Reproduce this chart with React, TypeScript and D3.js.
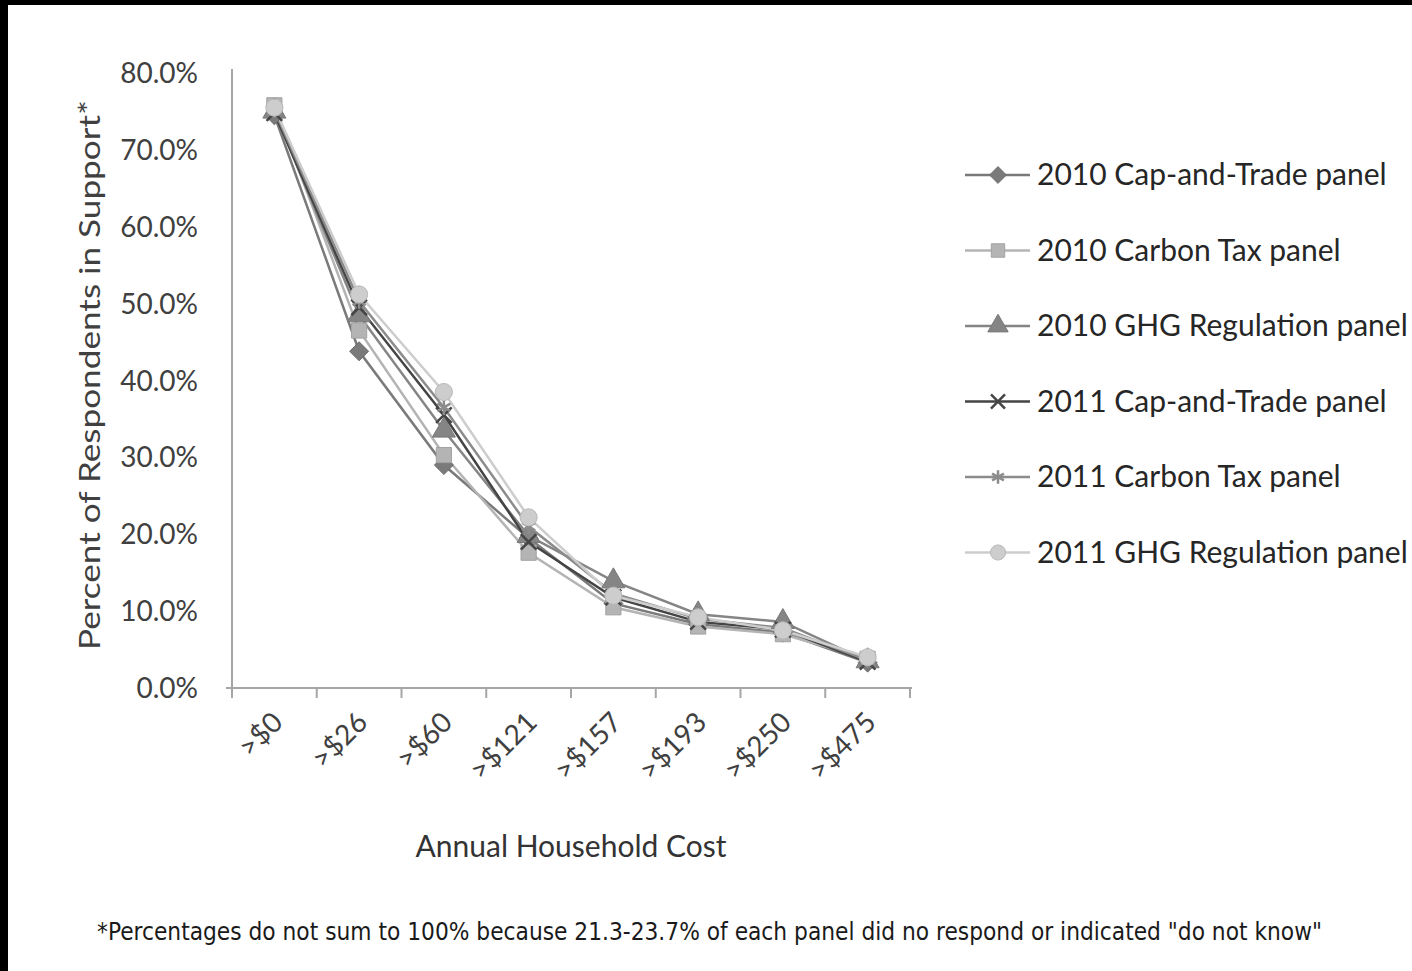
import React from 'react';
import * as d3 from 'd3';

const categories = ['>$0', '>$26', '>$60', '>$121', '>$157', '>$193', '>$250', '>$475'];

const capTrade2010 = [74.5, 43.8, 29.0, 19.5, 11.0, 8.3, 7.2, 3.3];
const carbonTax2010 = [75.8, 46.5, 30.3, 17.6, 10.5, 8.0, 7.0, 3.8];
const ghg2010 = [75.0, 48.5, 33.5, 19.8, 13.9, 9.6, 8.6, 3.5];
const capTrade2011 = [74.8, 49.5, 35.5, 19.0, 11.8, 8.6, 7.6, 3.4];
const carbonTax2011 = [75.2, 50.3, 36.5, 21.0, 12.3, 9.0, 7.8, 3.6];
const ghg2011 = [75.5, 51.2, 38.5, 22.2, 12.0, 9.2, 7.5, 4.0];

const yTicks = [0, 10, 20, 30, 40, 50, 60, 70, 80];

const series = [
  { name: '2010 Cap-and-Trade panel', values: capTrade2010, color: '#7a7a7a', symbol: d3.symbolDiamond2, stroke: false },
  { name: '2010 Carbon Tax panel', values: carbonTax2010, color: '#b4b4b4', symbol: d3.symbolSquare, stroke: false },
  { name: '2010 GHG Regulation panel', values: ghg2010, color: '#858585', symbol: d3.symbolTriangle, stroke: false },
  { name: '2011 Cap-and-Trade panel', values: capTrade2011, color: '#454545', symbol: d3.symbolTimes, stroke: true },
  { name: '2011 Carbon Tax panel', values: carbonTax2011, color: '#8c8c8c', symbol: d3.symbolAsterisk, stroke: true },
  { name: '2011 GHG Regulation panel', values: ghg2011, color: '#cdcdcd', symbol: d3.symbolCircle, stroke: false },
];

const FONT = 'Lato, "Open Sans", sans-serif';

const App: React.FC = () => {
  const width = 1412;
  const height = 971;
  const left = 232;
  const right = 910;
  const top = 73;
  const bottom = 688;

  const x = d3.scaleBand<string>().domain(categories).range([left, right]).padding(0);
  const cx = (c: string) => (x(c) as number) + x.bandwidth() / 2;
  const y = d3.scaleLinear().domain([0, 80]).range([bottom, top]);

  const line = d3.line<number>()
    .x((_, i) => cx(categories[i]))
    .y(d => y(d));

  const tickXs = categories.map(c => x(c) as number).concat([right]);

  const markerPath = (s: typeof series[number], size: number) =>
    d3.symbol().type(s.symbol).size(size)() as string;

  const legendY = (i: number) => 175 + i * 75.5;

  return (
    <svg
      width={width}
      height={height}
      style={{ position: 'absolute', left: 0, top: 0, background: '#fff' }}
      fontFamily={FONT}
    >
      <rect x={0} y={0} width={width} height={height} fill="#fff" />
      <rect x={0} y={0} width={width} height={5} fill="#000" />
      <rect x={0} y={0} width={8} height={height} fill="#000" />

      {/* y axis */}
      <line x1={left} x2={left} y1={top - 4} y2={bottom} stroke="#a6a6a6" strokeWidth={2} />
      <line x1={left - 6} x2={left} y1={bottom} y2={bottom} stroke="#a6a6a6" strokeWidth={2} />
      {yTicks.map(t => (
        <text key={t} x={198} y={y(t) + 10} textAnchor="end" fontSize={28} fill="#404040">
          {t.toFixed(1) + '%'}
        </text>
      ))}
      <text
        transform={`translate(100,${375}) rotate(-90)`}
        textAnchor="middle"
        fontSize={28}
        fill="#404040"
        textLength={550}
        lengthAdjust="spacingAndGlyphs"
      >
        Percent of Respondents in Support*
      </text>

      {/* x axis */}
      <line x1={left} x2={right + 2} y1={bottom} y2={bottom} stroke="#a6a6a6" strokeWidth={2} />
      {tickXs.map((t, i) => (
        <line key={i} x1={t} x2={t} y1={bottom} y2={bottom + 10} stroke="#a6a6a6" strokeWidth={2} />
      ))}
      {categories.map(c => (
        <text
          key={c}
          transform={`translate(${cx(c) + 10},${724}) rotate(-45)`}
          textAnchor="end"
          fontSize={28}
          fill="#404040"
        >
          {c}
        </text>
      ))}
      <text x={571} y={857} textAnchor="middle" fontSize={30} fill="#333">
        Annual Household Cost
      </text>

      {/* lines */}
      {series.map(s => (
        <path key={s.name} d={line(s.values) as string} fill="none" stroke={s.color} strokeWidth={2.5} />
      ))}
      {/* markers */}
      {series.map(s => (
        <g key={s.name + '-m'}>
          {s.values.map((v, i) => (
            <path
              key={i}
              transform={`translate(${cx(categories[i])},${y(v)})`}
              d={markerPath(s, s.stroke ? 160 : 230)}
              fill={s.stroke ? 'none' : s.color}
              stroke={s.stroke ? s.color : d3.color(s.color)!.darker(0.3).toString()}
              strokeWidth={s.stroke ? 2.5 : 1}
            />
          ))}
        </g>
      ))}

      {/* legend */}
      {series.map((s, i) => (
        <g key={s.name + '-l'} transform={`translate(0,${legendY(i)})`}>
          <line x1={965} x2={1030} y1={0} y2={0} stroke={s.color} strokeWidth={2.5} />
          <path
            transform="translate(998,0)"
            d={markerPath(s, s.stroke ? 130 : 180)}
            fill={s.stroke ? 'none' : s.color}
            stroke={s.stroke ? s.color : d3.color(s.color)!.darker(0.3).toString()}
            strokeWidth={s.stroke ? 2.5 : 1}
          />
          <text x={1037} y={10} fontSize={30} fill="#262626">{s.name}</text>
        </g>
      ))}

      {/* footnote */}
      <text
        x={97}
        y={940}
        fontSize={25}
        fontFamily='"Liberation Sans Narrow", "DejaVu Sans Condensed", sans-serif'
        fill="#1a1a1a"
        textLength={1225}
        lengthAdjust="spacingAndGlyphs"
      >
        *Percentages do not sum to 100% because 21.3-23.7% of each panel did no respond or indicated "do not know"
      </text>
    </svg>
  );
};

export default App;
